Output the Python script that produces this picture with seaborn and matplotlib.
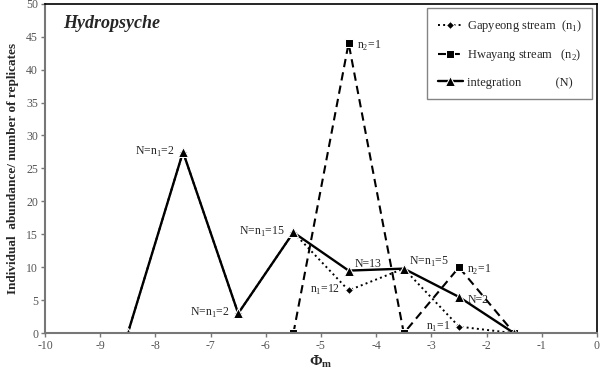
import numpy as np
import pandas as pd
import matplotlib
matplotlib.use('Agg')
import matplotlib.pyplot as plt
import seaborn as sns

# 資料
phi = [-8.5, -7.5, -6.5, -5.5, -4.5, -3.5, -2.5, -1.5]
gapyeong = [0, 27.5, 3, 15.3, 6.5, 9.8, 1, 0]
phi_h = [-5.5, -4.5, -3.5, -2.5, -1.5]
hwayang = [0, 44, 0, 10, 0]
integration = [0, 27.5, 3, 15.3, 9.5, 9.8, 5.5, 0]

labels = [
    (-7.5, 27.5, 'N=n$_1$=2', 'left'),
    (-6.5, 3, 'N=n$_1$=2', 'left'),
    (-5.5, 15.3, 'N=n$_1$=15', 'left'),
    (-4.5, 9.5, 'N=13', 'upright'),
    (-4.5, 6.5, 'n$_1$=12', 'left'),
    (-3.5, 9.8, 'N=n$_1$=5', 'upright'),
    (-2.5, 10, 'n$_2$=1', 'right'),
    (-2.5, 5.5, 'N=2', 'right'),
    (-2.5, 1, 'n$_1$=1', 'left'),
    (-4.5, 44, 'n$_2$=1', 'right'),
]

sns.set_style('white')
plt.rcParams['font.family'] = ['Liberation Serif', 'DejaVu Serif']
plt.rcParams['mathtext.fontset'] = 'custom'
plt.rcParams['mathtext.rm'] = 'Liberation Serif'
plt.rcParams['mathtext.bf'] = 'Liberation Serif:bold'
plt.rcParams['axes.unicode_minus'] = False

df_g = pd.DataFrame({'x': phi, 'y': gapyeong})
df_h = pd.DataFrame({'x': phi_h, 'y': hwayang})
df_n = pd.DataFrame({'x': phi, 'y': integration})

fig, ax = plt.subplots(figsize=(6, 3.69), dpi=100)
fig.subplots_adjust(left=0.075, right=0.995, top=0.99, bottom=0.097)

sns.lineplot(data=df_g, x='x', y='y', ax=ax, color='black', linestyle=':', linewidth=1.4,
             marker='D', markersize=4, label='Gapyeong stream  (n$_1$)')
sns.lineplot(data=df_h, x='x', y='y', ax=ax, color='black', linestyle=(0, (4, 2.5)), linewidth=1.5,
             marker='s', markersize=6, label='Hwayang stream   (n$_2$)')
sns.lineplot(data=df_n, x='x', y='y', ax=ax, color='black', linestyle='-', linewidth=1.7,
             marker='^', markersize=7, label='integration           (N)')

for x, y, t, pos in labels:
    if pos == 'left':
        ax.annotate(t, (x, y), xytext=(-6, 0), textcoords='offset points', ha='right', va='center', fontsize=8.5)
    elif pos == 'right':
        ax.annotate(t, (x, y), xytext=(6, -2), textcoords='offset points', ha='left', va='center', fontsize=8.5)
    else:
        ax.annotate(t, (x, y), xytext=(4, 5), textcoords='offset points', ha='left', va='center', fontsize=8.5)

ax.set_xlim(-10, 0)
ax.set_ylim(0, 50)
ax.set_xticks(np.arange(-10, 1, 1))
ax.set_yticks(np.arange(0, 51, 5))
ax.tick_params(axis='both', labelsize=8.5, labelcolor='#555555', direction='out', length=3,
               color='#777777', width=1, bottom=True, left=True, pad=2)

for s in ['left', 'bottom']:
    ax.spines[s].set_color('#777777')
    ax.spines[s].set_linewidth(1.5)
for s in ['top', 'right']:
    ax.spines[s].set_color('black')
    ax.spines[s].set_linewidth(1.2)

ax.set_xlabel(r'$\mathbf{\Phi_m}$', fontsize=11, labelpad=1)
ax.set_ylabel('Individual  abundance/ number of replicates', fontsize=9.5, fontweight='bold', labelpad=5)

ax.text(0.033, 0.965, 'Hydropsyche', transform=ax.transAxes, fontsize=13, fontweight='bold',
        fontstyle='italic', ha='left', va='top')

leg = ax.legend(loc='upper right', bbox_to_anchor=(0.991, 0.988), borderaxespad=0, fontsize=9,
                frameon=True, fancybox=False, edgecolor='#666666', handlelength=2.0,
                labelspacing=1.05, borderpad=0.85, handletextpad=0.3)
leg.get_frame().set_linewidth(1)

plt.savefig('out.png', dpi=100)
